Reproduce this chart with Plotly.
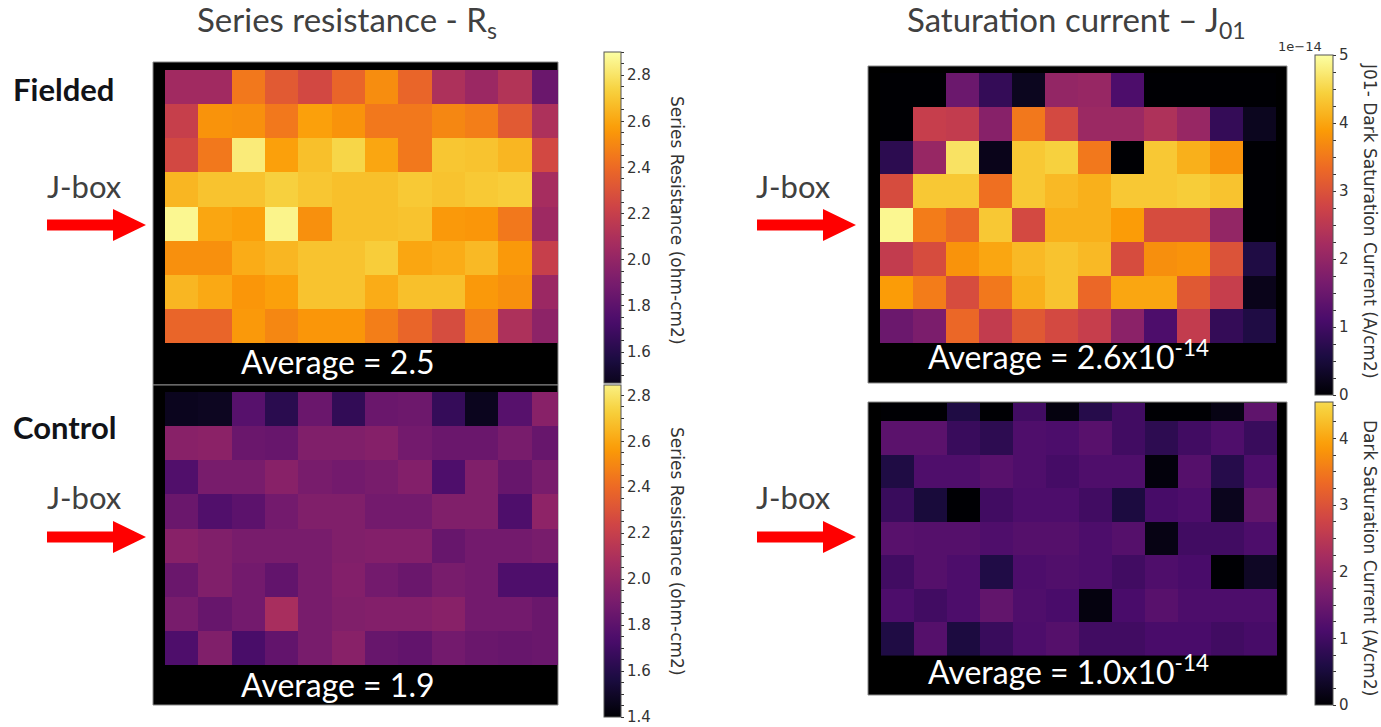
import numpy as np
import plotly.graph_objects as go

W, H = 1381, 727

cols = list(range(12))
rows = list(range(8))

# Series resistance (ohm-cm2), rows top -> bottom
rs_fielded = [
    [2.05, 2.05, 2.45, 2.33, 2.25, 2.38, 2.52, 2.38, 2.10, 2.03, 2.12, 1.85],
    [2.20, 2.54, 2.53, 2.45, 2.58, 2.54, 2.45, 2.45, 2.50, 2.47, 2.33, 2.10],
    [2.25, 2.45, 2.83, 2.58, 2.68, 2.75, 2.60, 2.45, 2.70, 2.69, 2.65, 2.25],
    [2.65, 2.69, 2.69, 2.73, 2.70, 2.68, 2.68, 2.71, 2.69, 2.71, 2.72, 2.07],
    [2.87, 2.60, 2.58, 2.86, 2.53, 2.68, 2.68, 2.69, 2.56, 2.55, 2.45, 2.04],
    [2.53, 2.53, 2.62, 2.65, 2.69, 2.69, 2.72, 2.60, 2.62, 2.66, 2.56, 2.20],
    [2.65, 2.61, 2.55, 2.58, 2.69, 2.69, 2.62, 2.68, 2.68, 2.56, 2.53, 2.03],
    [2.38, 2.38, 2.56, 2.50, 2.55, 2.55, 2.47, 2.38, 2.27, 2.47, 2.10, 1.98],
]
rs_control = [
    [1.47, 1.48, 1.78, 1.62, 1.85, 1.65, 1.85, 1.86, 1.66, 1.47, 1.78, 1.96],
    [1.96, 1.97, 1.85, 1.84, 1.93, 1.93, 1.95, 1.88, 1.85, 1.85, 1.90, 1.84],
    [1.76, 1.90, 1.90, 1.96, 1.90, 1.88, 1.90, 1.94, 1.75, 1.93, 1.84, 1.90],
    [1.85, 1.76, 1.80, 1.88, 1.93, 1.93, 1.88, 1.88, 1.93, 1.93, 1.75, 1.98],
    [1.96, 1.93, 1.90, 1.90, 1.90, 1.93, 1.94, 1.94, 1.84, 1.88, 1.88, 1.90],
    [1.85, 1.93, 1.88, 1.82, 1.90, 1.94, 1.88, 1.85, 1.90, 1.88, 1.75, 1.75],
    [1.90, 1.84, 1.88, 2.08, 1.90, 1.93, 1.94, 1.94, 1.96, 1.88, 1.88, 1.85],
    [1.75, 1.93, 1.73, 1.82, 1.90, 1.96, 1.84, 1.82, 1.88, 1.85, 1.84, 1.85],
]
# J01 dark saturation current (units of 1e-14 A/cm2)
j01_fielded = [
    [0.00, 0.00, 1.50, 0.85, 0.25, 2.00, 2.05, 1.15, 0.00, 0.00, 0.00, 0.00],
    [0.00, 2.65, 2.60, 1.85, 3.50, 2.85, 2.10, 2.10, 2.35, 2.05, 0.85, 0.25],
    [0.75, 2.05, 4.65, 0.20, 4.35, 4.45, 3.50, 0.00, 4.35, 4.10, 3.80, 0.00],
    [2.90, 4.35, 4.35, 3.40, 4.35, 4.20, 4.10, 4.35, 4.35, 4.40, 4.30, 0.00],
    [4.90, 3.55, 3.30, 4.35, 2.85, 4.10, 4.10, 3.90, 2.90, 2.90, 2.00, 0.00],
    [2.60, 2.90, 3.80, 4.00, 4.20, 4.30, 4.20, 2.90, 3.75, 3.80, 3.00, 0.60],
    [3.90, 3.55, 2.90, 3.50, 4.10, 4.30, 3.30, 4.00, 4.00, 3.10, 2.65, 0.20],
    [1.50, 1.70, 3.30, 2.60, 3.10, 2.85, 2.65, 1.90, 1.15, 2.60, 0.85, 0.60],
]
j01_control = [
    [0.00, 0.00, 0.60, 0.00, 1.00, 0.10, 0.68, 1.00, 0.00, 0.00, 0.15, 1.37],
    [1.32, 1.32, 0.91, 0.77, 1.18, 1.14, 1.28, 1.00, 0.77, 1.00, 1.18, 0.91],
    [0.60, 1.18, 1.18, 1.28, 1.18, 1.05, 1.18, 1.18, 0.07, 1.25, 0.68, 1.15],
    [0.91, 0.50, 0.00, 1.00, 1.15, 1.15, 1.00, 0.55, 1.08, 1.15, 0.23, 1.40],
    [1.28, 1.25, 1.25, 1.18, 1.25, 1.25, 1.15, 1.25, 0.15, 1.00, 1.00, 1.15],
    [1.00, 1.25, 1.15, 0.62, 1.15, 1.20, 1.15, 1.00, 1.18, 1.10, 0.00, 0.30],
    [1.15, 1.00, 1.15, 1.40, 1.18, 1.10, 0.10, 1.10, 1.28, 1.15, 1.15, 1.15],
    [0.60, 1.25, 0.55, 0.91, 1.15, 1.25, 1.00, 1.00, 1.10, 1.10, 1.00, 1.08],
]

rs_major = [1.4, 1.6, 1.8, 2.0, 2.2, 2.4, 2.6, 2.8]
j_major = [0, 1, 2, 3, 4, 5]

INFERNO = ['#000004', '#1b0c41', '#4a0c6b', '#781c6d', '#a52c60',
           '#cf4446', '#ed6925', '#fb9b06', '#f7d13d', '#fcffa4']


def _rgb(h):
    return np.array([int(h[i:i + 2], 16) for i in (1, 3, 5)], float)


def inferno_at(t):
    t = min(max(t, 0.0), 1.0) * (len(INFERNO) - 1)
    i = min(int(np.floor(t)), len(INFERNO) - 2)
    f = t - i
    c = _rgb(INFERNO[i]) * (1 - f) + _rgb(INFERNO[i + 1]) * f
    return f"rgb({c[0]:.0f},{c[1]:.0f},{c[2]:.0f})"


def sub_scale(a, b, n=46):
    return [[k / (n - 1), inferno_at(a + (b - a) * k / (n - 1))] for k in range(n)]


def px(x):
    return x / W


def py(y):
    return 1 - y / H


def ticks(lo, hi, step, majors, fmt):
    vals, txt = [], []
    k = int(np.ceil(lo / step - 1e-9))
    while k * step <= hi + 1e-9:
        v = round(k * step, 4) + 0.0
        vals.append(v)
        is_major = any(abs(v - m) < 1e-6 for m in majors)
        txt.append(fmt(abs(v) if abs(v) < 1e-9 else v) if is_major else "")
        k += 1
    return vals, txt


TICKFONT = dict(family="DejaVu Sans", size=15, color="#333333")


def cbar(x, ytop, ybot, thick, lo, hi, step, majors, fmt):
    tv, tt = ticks(lo, hi, step, majors, fmt)
    return dict(x=px(x), xanchor="left", y=py(ytop), yanchor="top",
                len=ybot - ytop, lenmode="pixels", thickness=thick,
                thicknessmode="pixels", xpad=0, ypad=0,
                outlinewidth=1, outlinecolor="#555555",
                tickvals=tv, ticktext=tt, ticks="outside", ticklen=3,
                tickcolor="#333333", tickfont=TICKFONT)


fig = go.Figure()

tl_lo, tl_hi = 1.466, 2.9
fig.add_trace(go.Heatmap(
    z=rs_fielded, x=cols, y=rows, xaxis="x", yaxis="y",
    zmin=tl_lo, zmax=tl_hi,
    colorscale=sub_scale((tl_lo - 1.4) / 1.5, (tl_hi - 1.4) / 1.5),
    colorbar=cbar(604, 52, 383, 17, tl_lo, tl_hi, 0.05, rs_major, lambda v: f"{v:.1f}"),
    hoverinfo="skip"))

bl_lo, bl_hi = 1.4, 2.845
fig.add_trace(go.Heatmap(
    z=rs_control, x=cols, y=rows, xaxis="x2", yaxis="y2",
    zmin=bl_lo, zmax=bl_hi,
    colorscale=sub_scale(0, (bl_hi - 1.4) / 1.5),
    colorbar=cbar(604, 385, 717, 17, bl_lo, bl_hi, 0.05, rs_major, lambda v: f"{v:.1f}"),
    hoverinfo="skip"))

fig.add_trace(go.Heatmap(
    z=j01_fielded, x=cols, y=rows, xaxis="x3", yaxis="y3",
    zmin=0, zmax=5, colorscale=sub_scale(0, 1),
    colorbar=cbar(1315, 55, 395, 18, 0, 5, 0.25, j_major, lambda v: f"{v:.0f}"),
    hoverinfo="skip"))

br_hi = 4.55
fig.add_trace(go.Heatmap(
    z=j01_control, x=cols, y=rows, xaxis="x4", yaxis="y4",
    zmin=0, zmax=br_hi, colorscale=sub_scale(0, br_hi / 5),
    colorbar=cbar(1315, 402, 705, 18, 0, br_hi, 0.25, j_major, lambda v: f"{v:.0f}"),
    hoverinfo="skip"))


def ax(x0, x1, y0, y1, xr, yr, anchor):
    xa = dict(domain=[px(x0), px(x1)], range=xr, visible=False, anchor=anchor[1], fixedrange=True)
    ya = dict(domain=[py(y1), py(y0)], range=yr, visible=False, anchor=anchor[0], fixedrange=True)
    return xa, ya


xa1, ya1 = ax(165, 558, 70, 343, [-0.5, 11.3], [7.5, -0.5], ("x", "y"))
xa2, ya2 = ax(165, 558, 392, 665, [-0.5, 11.3], [7.5, -0.5], ("x2", "y2"))
xa3, ya3 = ax(880, 1276, 73, 343, [-0.5, 11.5], [7.5, -0.5], ("x3", "y3"))
xa4, ya4 = ax(881, 1277, 403, 656, [-0.5, 11.5], [7.5, -0.04], ("x4", "y4"))

shapes = []
for (x0, y0, x1, y1) in [(153, 62, 558, 385), (153, 385, 558, 705),
                         (868, 66, 1287, 383), (868, 402, 1287, 695)]:
    shapes.append(dict(type="rect", xref="paper", yref="paper", layer="below",
                       x0=px(x0), x1=px(x1), y0=py(y1), y1=py(y0),
                       fillcolor="black", line=dict(color="#8a8a8a", width=1)))


def arrow(x0, yc):
    xh, tip, sh, hh = x0 + 66, x0 + 99, 5.5, 16
    pts = [(x0, yc - sh), (xh, yc - sh), (xh, yc - hh), (tip, yc),
           (xh, yc + hh), (xh, yc + sh), (x0, yc + sh)]
    path = "M " + " L ".join(f"{px(a):.5f},{py(b):.5f}" for a, b in pts) + " Z"
    return dict(type="path", xref="paper", yref="paper", path=path,
                fillcolor="#ff0000", line=dict(color="#ff0000", width=0))


for x0, yc in [(47, 225), (47, 537), (757, 225), (757, 537)]:
    shapes.append(arrow(x0, yc))

ann = []


def text(t, x, y, size, color, family="Lato", xanchor="center", angle=0):
    ann.append(dict(text=t, x=px(x), y=py(y), xref="paper", yref="paper",
                    showarrow=False, xanchor=xanchor, yanchor="middle",
                    textangle=angle,
                    font=dict(family=family, size=size, color=color)))


text("Series resistance - R<sub>s</sub>", 347, 21, 33, "#404040")
text("Saturation current – J<sub>01</sub>", 1076, 21, 33, "#404040")
text("<b>Fielded</b>", 11, 89, 31, "#111318", xanchor="left")
text("<b>Control</b>", 11, 427, 31, "#111318", xanchor="left")
for x, y in [(84, 186), (84, 497), (793, 186), (793, 497)]:
    text("J-box", x, y, 31, "#404040")
text("Average = 2.5", 338, 361, 32, "white")
text("Average = 1.9", 338, 684, 32, "white")
text("Average = 2.6x10<sup>-14</sup>", 1068, 355, 32, "white")
text("Average = 1.0x10<sup>-14</sup>", 1068, 670, 32, "white")
text("1e−14", 1300, 46, 13, "#333333", family="DejaVu Sans")
text("Series Resistance (ohm-cm2)", 677, 220, 17, "#333333", family="DejaVu Sans", angle=90)
text("Series Resistance (ohm-cm2)", 677, 551, 17, "#333333", family="DejaVu Sans", angle=90)
text("J01- Dark Saturation Current (A/cm2)", 1370, 221, 17, "#333333", family="DejaVu Sans", angle=90)
text("Dark Saturation Current (A/cm2)", 1370, 558, 17, "#333333", family="DejaVu Sans", angle=90)

fig.update_layout(
    width=W, height=H, margin=dict(l=0, r=0, t=0, b=0),
    paper_bgcolor="white", plot_bgcolor="black", showlegend=False,
    xaxis=xa1, yaxis=ya1, xaxis2=xa2, yaxis2=ya2,
    xaxis3=xa3, yaxis3=ya3, xaxis4=xa4, yaxis4=ya4,
    shapes=shapes, annotations=ann,
)

fig.write_html("out.html", config={"displayModeBar": False})
